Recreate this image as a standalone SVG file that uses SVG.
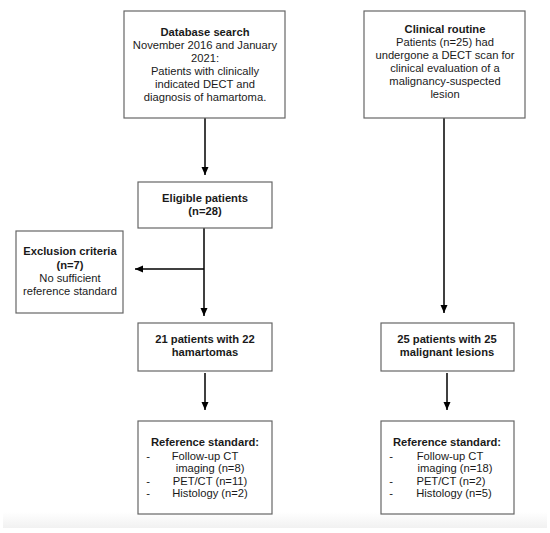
<svg xmlns="http://www.w3.org/2000/svg" width="550" height="533" viewBox="0 0 550 533">
<style>
text{font-family:"Liberation Sans",Arial,Helvetica,sans-serif;font-size:11.2px;fill:#1a1a1a;text-anchor:middle}
.b{font-weight:bold}
.box{fill:#fff;stroke:#666;stroke-width:1.2}
.c{stroke:#000;stroke-width:1.5;fill:none;marker-end:url(#ah)}
.d{text-anchor:middle}
</style>
<defs>
<marker id="ah" markerUnits="userSpaceOnUse" markerWidth="9" markerHeight="8" refX="8" refY="3.5" orient="auto">
<path d="M0,0 L8,3.5 L0,7 z" fill="#000"/>
</marker>
<linearGradient id="sh" x1="0" y1="0" x2="0" y2="1">
<stop offset="0" stop-color="#fff"/>
<stop offset="1" stop-color="#f1f1f1"/>
</linearGradient>
</defs>
<rect width="550" height="533" fill="#fff"/>
<rect x="3" y="512" width="544" height="16" fill="url(#sh)"/>
<g id="connectors">
<line class="c" x1="205" y1="118" x2="205" y2="175"/>
<line class="c" x1="204" y1="228" x2="204" y2="316"/>
<line class="c" x1="204" y1="269" x2="135" y2="269"/>
<line class="c" x1="205" y1="373" x2="205" y2="410"/>
<line class="c" x1="444" y1="118" x2="444" y2="313"/>
<line class="c" x1="447" y1="373" x2="447" y2="410"/>
</g>
<g id="database">
<rect class="box" x="124" y="11" width="161" height="107"/>
<text class="b" x="205" y="36">Database search</text>
<text x="205" y="49">November 2016 and January</text>
<text x="205" y="62">2021:</text>
<text x="205" y="75">Patients with clinically</text>
<text x="205" y="88">indicated DECT and</text>
<text x="205" y="101">diagnosis of hamartoma.</text>
</g>
<g id="clinical">
<rect class="box" x="364" y="11" width="161" height="107"/>
<text class="b" x="445" y="33">Clinical routine</text>
<text x="445" y="46">Patients (n=25) had</text>
<text x="445" y="59">undergone a DECT scan for</text>
<text x="445" y="72">clinical evaluation of a</text>
<text x="445" y="85">malignancy-suspected</text>
<text x="445" y="98">lesion</text>
</g>
<g id="eligible">
<rect class="box" x="138" y="182" width="134" height="46"/>
<text class="b" x="205" y="202">Eligible patients</text>
<text class="b" x="205" y="215">(n=28)</text>
</g>
<g id="exclusion">
<rect class="box" x="16" y="231" width="107" height="82"/>
<text class="b" x="70" y="255">Exclusion criteria</text>
<text class="b" x="70" y="269">(n=7)</text>
<text x="70" y="282">No sufficient</text>
<text x="70" y="295">reference standard</text>
</g>
<g id="hamartomas">
<rect class="box" x="138" y="323" width="134" height="48"/>
<text class="b" x="205" y="343">21 patients with 22</text>
<text class="b" x="205" y="356">hamartomas</text>
</g>
<g id="malignant">
<rect class="box" x="381" y="323" width="133" height="48"/>
<text class="b" x="447" y="343">25 patients with 25</text>
<text class="b" x="447" y="356">malignant lesions</text>
</g>
<g id="ref-left">
<rect class="box" x="138" y="421" width="134" height="93"/>
<text class="b" x="205" y="446">Reference standard:</text>
<text x="148" y="460">-</text>
<text x="205" y="460">Follow-up CT</text>
<text x="210" y="472">imaging (n=8)</text>
<text x="148" y="485">-</text>
<text x="210" y="485">PET/CT (n=11)</text>
<text x="148" y="497">-</text>
<text x="210" y="497">Histology (n=2)</text>
</g>
<g id="ref-right">
<rect class="box" x="381" y="421" width="133" height="93"/>
<text class="b" x="447" y="446">Reference standard:</text>
<text x="391" y="460">-</text>
<text x="450" y="460">Follow-up CT</text>
<text x="455" y="472">imaging (n=18)</text>
<text x="391" y="485">-</text>
<text x="451" y="485">PET/CT (n=2)</text>
<text x="391" y="497">-</text>
<text x="454" y="497">Histology (n=5)</text>
</g>
</svg>
